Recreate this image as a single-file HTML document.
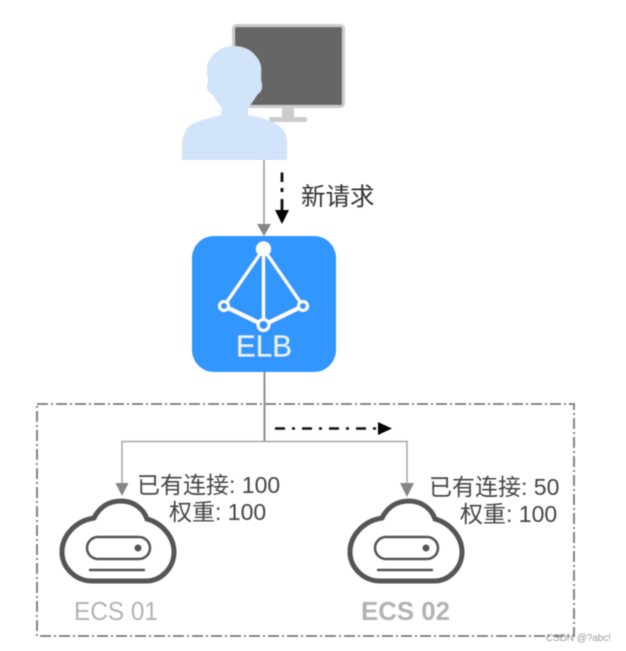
<!DOCTYPE html>
<html><head><meta charset="utf-8"><style>
html,body{margin:0;padding:0;background:#fff;width:626px;height:651px;overflow:hidden}
svg{display:block}
text{font-family:"Liberation Sans","Noto Sans CJK SC",sans-serif}
</style></head><body>
<svg width="626" height="651" viewBox="0 0 626 651" xmlns="http://www.w3.org/2000/svg">
<defs><filter id="b" filterUnits="userSpaceOnUse" x="0" y="0" width="626" height="651"><feGaussianBlur stdDeviation="0.45"/></filter></defs>
<rect width="626" height="651" fill="#fff"/>
<g filter="url(#b)">
<rect x="233.500" y="25.500" width="110" height="81" rx="3" fill="#666" stroke="#ccc" stroke-width="3"/>
<rect x="282" y="108" width="12" height="10" fill="#ccc"/>
<rect x="269" y="117" width="38" height="5" rx="2" fill="#ccc"/>
<path d="M182 160V147C182 135 186 127 194 123C203 119 212 118 221 115L222 108C218 103 215 99 213 95C209 93 207 90 207 87C207 84 208 82 208 80C207 76 207 73 207 70C207 63 209 59 212 56C218 50 224 46 232 46C240 46 248 48 253 53C258 58 261 63 261 68C261 72 261 76 261 80C262 83 262 85 262 87C262 91 259 93 257 95C254 100 251 104 248 108V115C258 117 267 119 275 123C283 128 287 134 287 142V160Z" fill="#d2e4f9"/>
<path d="M264 160V224" fill="none" stroke="#ababab" stroke-width="2"/>
<path d="M257 224H271L264 236Z" fill="#858585"/>
<path d="M282 172.500V182M282 188V192M282 199V211" stroke="#111" stroke-width="2.800" fill="none"/>
<path d="M275 210H289L282 224Z" fill="#000"/>
<text x="301" y="205" font-size="24.500" fill="#333">新请求</text>
<rect x="192" y="236" width="144" height="136" rx="22" fill="#3396ff"/>
<g stroke="#fff" fill="none">
<path d="M263.500 249L224 306M263.500 249V325M263.500 249L303 306" stroke-width="3"/>
<path d="M224 306L263.500 325L303 306" stroke-width="4"/>
<circle cx="263.500" cy="249" r="7.500" fill="#fff" stroke="none"/>
<circle cx="224" cy="306" r="4.500" fill="#3396ff" stroke-width="2.800"/>
<circle cx="303" cy="306" r="4.500" fill="#3396ff" stroke-width="2.800"/>
<circle cx="263.500" cy="325" r="5.500" fill="#3396ff" stroke-width="2.800"/>
</g>
<text x="236" y="356.500" font-size="30.500" fill="#e8f3ff" font-weight="400" textLength="56" lengthAdjust="spacingAndGlyphs">ELB</text>
<rect x="37" y="404" width="537" height="232" fill="none" stroke="#777" stroke-width="1.800" stroke-dasharray="11 3 2 3"/>
<path d="M264.500 372V441" stroke="#8f8f8f" stroke-width="2" fill="none"/>
<path d="M122 484V441.500H407V484" stroke="#a5a5a5" stroke-width="1.500" fill="none"/>
<path d="M115.500 483H128.500L122 496Z" fill="#858585"/>
<path d="M400 483H414L407 497Z" fill="#858585"/>
<path d="M275 428.500H378" stroke="#111" stroke-width="2.500" stroke-dasharray="10 7 3 7" fill="none"/>
<path d="M378 422L392 428.500L378 435Z" fill="#000"/>
<g fill="none" stroke="#555">
<path d="M92 581H146C162 581 174 567 174 552C174 537 162 523 147 519C143 508 133 501 121 501C108 501 99 508 94 518C75 521 62 536 62 552C62 568 76 581 92 581Z" stroke-width="5"/>
<rect x="87" y="537" width="63" height="22" rx="11" stroke-width="2.500"/>
<circle cx="138" cy="548" r="3.500" fill="#555" stroke="none"/>
<path d="M89 570H145" stroke-width="2.500"/>
</g>
<g fill="none" stroke="#555" transform="translate(288 0)">
<path d="M92 581H146C162 581 174 567 174 552C174 537 162 523 147 519C143 508 133 501 121 501C108 501 99 508 94 518C75 521 62 536 62 552C62 568 76 581 92 581Z" stroke-width="5"/>
<rect x="87" y="537" width="63" height="22" rx="11" stroke-width="2.500"/>
<circle cx="138" cy="548" r="3.500" fill="#555" stroke="none"/>
<path d="M89 570H145" stroke-width="2.500"/>
</g>
<g font-size="23" fill="#444">
<text x="137" y="493">已有连接: 100</text>
<text x="169" y="520">权重: 100</text>
<text x="429" y="495">已有连接: 50</text>
<text x="460" y="522">权重: 100</text>
</g>
<text x="74" y="620" font-size="25.500" fill="#b3b3b3" textLength="84" lengthAdjust="spacingAndGlyphs">ECS 01</text>
<text x="361" y="620" font-size="26" font-weight="700" fill="#b3b3b3" textLength="89" lengthAdjust="spacingAndGlyphs">ECS 02</text>
<text x="546" y="641" font-size="10.500" fill="#999" textLength="65" lengthAdjust="spacingAndGlyphs">CSDN @?abc!</text>
</g>
</svg>
</body></html>
